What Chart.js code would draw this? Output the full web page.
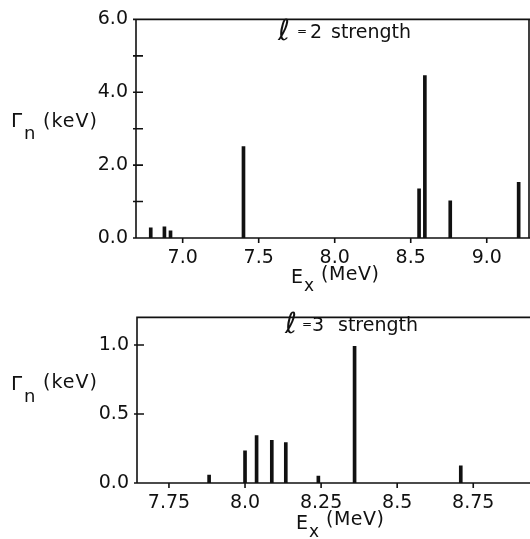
<!DOCTYPE html>
<html>
<head>
<meta charset="utf-8">
<title>l = 2 and l = 3 strength</title>
<script src="https://cdn.jsdelivr.net/npm/chart.js@4.4.0/dist/chart.umd.min.js"></script>
<style>
  html, body { margin: 0; padding: 0; background: #fff; }
  #wrap { position: relative; width: 530px; height: 539px; overflow: hidden; }
  canvas { position: absolute; left: 0; }
</style>
</head>
<body>
<div id="wrap">
  <canvas id="chart-l2" width="530" height="298" style="top:0"></canvas>
  <canvas id="chart-l3" width="530" height="241" style="top:298px"></canvas>
</div>
<script>
// l = 2 strength: excitation energy (MeV) and neutron width (keV)
var l2Energy = [6.79, 6.88, 6.92, 7.40, 8.555, 8.593, 8.76, 9.21];
var l2Width = [0.28, 0.31, 0.20, 2.51, 1.35, 4.46, 1.02, 1.53];
var l2XTicks = [7.0, 7.5, 8.0, 8.5, 9.0];
var l2XLabels = ["7.0", "7.5", "8.0", "8.5", "9.0"];
var l2YTicks = [0, 1, 2, 3, 4, 5, 6];
var l2YLabels = ["0.0", "", "2.0", "", "4.0", "", "6.0"];

// l = 3 strength
var l3Energy = [7.882, 8.0, 8.038, 8.088, 8.134, 8.241, 8.36, 8.709];
var l3Width = [0.058, 0.234, 0.344, 0.31, 0.292, 0.05, 0.99, 0.124];
var l3XTicks = [7.75, 8.0, 8.25, 8.5, 8.75];
var l3XLabels = ["7.75", "8.0", "8.25", "8.5", "8.75"];
var l3YTicks = [0, 0.5, 1.0];
var l3YLabels = ["0.0", "0.5", "1.0"];

var ink = "#111";
var fam = "'DejaVu Sans', sans-serif";
var tickFont = { family: "DejaVu Sans", size: 19 };

function fixedTicks(values) {
  return function (scale) {
    scale.ticks = values.map(function (v) { return { value: v }; });
  };
}

function labelFor(values, labels) {
  return function (v) {
    var i = values.indexOf(v);
    return i < 0 ? "" : labels[i];
  };
}

function drawPieces(ctx, pieces) {
  pieces.forEach(function (p) {
    ctx.font = p.font;
    ctx.letterSpacing = p.ls || "0px";
    ctx.fillText(p.t, p.x, p.y);
  });
}

var panelDecor = {
  id: "panelDecor",
  afterDraw: function (chart, args, o) {
    var ctx = chart.ctx, a = chart.chartArea;
    var xs = chart.scales.x, ys = chart.scales.y;
    ctx.save();
    ctx.strokeStyle = ink;
    ctx.fillStyle = ink;
    ctx.lineWidth = 1.6;
    ctx.beginPath();
    if (o.rightEdge) {
      ctx.moveTo(a.right, a.top);
      ctx.lineTo(a.right, a.bottom);
    }
    ctx.moveTo(a.right + 2, a.top);
    ctx.lineTo(a.left, a.top);
    ctx.lineTo(a.left, a.bottom);
    ctx.lineTo(a.right + 2, a.bottom);
    xs.ticks.forEach(function (t) {
      var px = xs.getPixelForValue(t.value);
      ctx.moveTo(px, a.bottom);
      ctx.lineTo(px, a.bottom + 5);
    });
    ys.ticks.forEach(function (t) {
      var py = ys.getPixelForValue(t.value);
      ctx.moveTo(a.left - 3, py);
      ctx.lineTo(a.left + 7, py);
    });
    ctx.stroke();

    ctx.textAlign = "left";
    ctx.textBaseline = "alphabetic";
    drawPieces(ctx, o.texts);
    ctx.restore();
  }
};

function makeChart(id, energy, width, xr, yr, xTicks, xLabels, yTicks, yLabels, lay, decor) {
  return new Chart(document.getElementById(id), {
    type: "bar",
    data: {
      datasets: [{
        data: energy.map(function (e, i) { return { x: e, y: width[i] }; }),
        backgroundColor: ink,
        borderWidth: 0,
        barThickness: 3
      }]
    },
    options: {
      responsive: false,
      animation: false,
      devicePixelRatio: 1,
      layout: { padding: { left: 0, right: lay.right, top: lay.top, bottom: 0 } },
      plugins: { legend: { display: false }, tooltip: { enabled: false }, panelDecor: decor },
      scales: {
        x: {
          type: "linear",
          min: xr[0],
          max: xr[1],
          offset: false,
          grid: { display: false, drawTicks: false },
          border: { display: false },
          afterBuildTicks: fixedTicks(xTicks),
          afterFit: function (s) { s.height = lay.xh; },
          ticks: {
            callback: labelFor(xTicks, xLabels),
            font: tickFont,
            color: ink,
            padding: 9,
            maxRotation: 0,
            autoSkip: false
          }
        },
        y: {
          min: yr[0],
          max: yr[1],
          grid: { display: false, drawTicks: false },
          border: { display: false },
          afterBuildTicks: fixedTicks(yTicks),
          afterFit: function (s) { s.width = lay.yw; },
          ticks: {
            callback: labelFor(yTicks, yLabels),
            font: tickFont,
            color: ink,
            padding: 8,
            autoSkip: false
          }
        }
      }
    },
    plugins: [panelDecor]
  });
}

makeChart("chart-l2", l2Energy, l2Width, [6.693, 9.278], [0, 6],
  l2XTicks, l2XLabels, l2YTicks, l2YLabels,
  { right: 1, top: 14, xh: 60, yw: 136 },
  {
    rightEdge: true,
    texts: [
      { t: "\u2113", x: 278, y: 40, font: "oblique 29px " + fam },
      { t: "=", x: 297, y: 35, font: "12px " + fam },
      { t: "2", x: 310, y: 38, font: "19px " + fam },
      { t: "strength", x: 331, y: 38, font: "19px " + fam },
      { t: "\u0393", x: 11, y: 127, font: "20px " + fam },
      { t: "n", x: 24, y: 139, font: "18px " + fam },
      { t: "(keV)", x: 43, y: 127, font: "19px " + fam, ls: "1px" },
      { t: "E", x: 291, y: 283, font: "19px " + fam },
      { t: "x", x: 304, y: 291, font: "17px " + fam },
      { t: "(MeV)", x: 321, y: 280, font: "19px " + fam, ls: "0.5px" }
    ]
  });

makeChart("chart-l3", l3Energy, l3Width, [7.645, 8.9365], [0, 1.2],
  l3XTicks, l3XLabels, l3YTicks, l3YLabels,
  { right: 0, top: 7, xh: 56, yw: 137 },
  {
    rightEdge: false,
    texts: [
      { t: "\u2113", x: 285, y: 35, font: "oblique 29px " + fam },
      { t: "=", x: 302, y: 30, font: "12px " + fam },
      { t: "3", x: 312, y: 33, font: "19px " + fam },
      { t: "strength", x: 338, y: 33, font: "19px " + fam },
      { t: "\u0393", x: 11, y: 92, font: "20px " + fam },
      { t: "n", x: 24, y: 104, font: "18px " + fam },
      { t: "(keV)", x: 43, y: 90, font: "19px " + fam, ls: "1px" },
      { t: "E", x: 296, y: 231, font: "19px " + fam },
      { t: "x", x: 309, y: 239, font: "17px " + fam },
      { t: "(MeV)", x: 326, y: 227, font: "19px " + fam, ls: "0.5px" }
    ]
  });
</script>
</body>
</html>
